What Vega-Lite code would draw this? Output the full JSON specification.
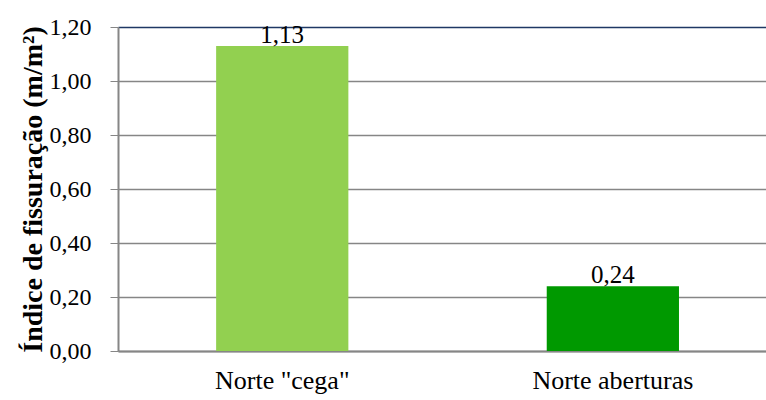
{
  "$schema": "https://vega.github.io/schema/vega-lite/v6.json",
  "width": 648,
  "height": 324,
  "autosize": {"type": "none"},
  "padding": {"left": 118, "top": 27, "right": 0, "bottom": 49},
  "background": "white",
  "data": {
    "values": [
      {"categoria": "Norte \"cega\"", "indice": 1.13},
      {"categoria": "Norte aberturas", "indice": 0.24}
    ]
  },
  "encoding": {
    "x": {
      "field": "categoria",
      "type": "nominal",
      "sort": null,
      "scale": {"paddingInner": 0.6, "paddingOuter": 0.28, "align": 0.53},
      "axis": {
        "title": null,
        "labelAngle": 0,
        "ticks": false,
        "labelPadding": 16,
        "labelLimit": 400,
        "domainColor": "#868686",
        "domainWidth": 2,
        "labelFontSize": 26,
        "labelColor": "black",
        "grid": false
      }
    },
    "y": {
      "field": "indice",
      "type": "quantitative",
      "scale": {"domain": [0, 1.2], "nice": false},
      "axis": {
        "title": "Índice de fissuração (m/m²)",
        "titleFontSize": 28,
        "titleFontWeight": "bold",
        "titleColor": "black",
        "titlePadding": 2,
        "titleLimit": 400,
        "values": [0, 0.2, 0.4, 0.6, 0.8, 1.0, 1.2],
        "format": ".2f",
        "labelFontSize": 24,
        "labelColor": "black",
        "labelPadding": 19,
        "tickSize": 8,
        "tickColor": "#868686",
        "domainColor": "#868686",
        "domainWidth": 2,
        "grid": true,
        "gridColor": {"condition": {"test": "datum.value == 1.2", "value": "#1F3864"}, "value": "#868686"},
        "gridWidth": 1.5
      }
    }
  },
  "layer": [
    {
      "mark": {"type": "bar"},
      "encoding": {
        "color": {
          "field": "categoria",
          "type": "nominal",
          "sort": null,
          "scale": {"range": ["#92D050", "#009900"]},
          "legend": null
        }
      }
    },
    {
      "mark": {"type": "text", "baseline": "alphabetic", "dy": -3, "fontSize": 25, "color": "black"},
      "encoding": {
        "text": {"field": "indice", "type": "quantitative", "format": ".2f"}
      }
    }
  ],
  "config": {
    "font": "Liberation Serif",
    "axis": {"labelFont": "Liberation Serif", "titleFont": "Liberation Serif"},
    "text": {"font": "Liberation Serif"},
    "view": {"stroke": null},
    "locale": {
      "number": {"decimal": ",", "thousands": ".", "grouping": [3], "currency": ["", ""]}
    }
  }
}
